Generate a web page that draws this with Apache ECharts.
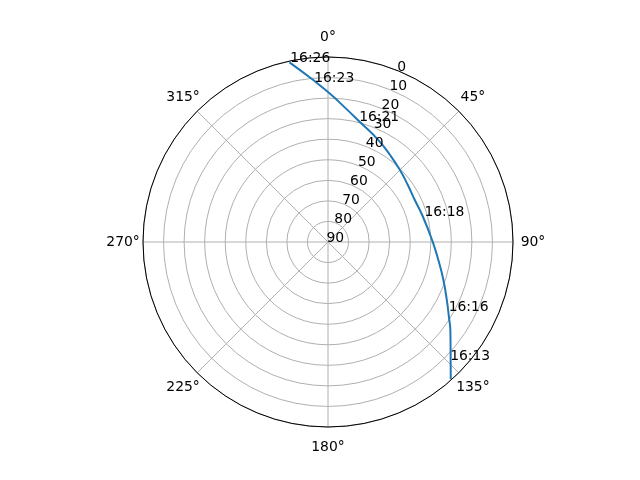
<!DOCTYPE html>
<html>
<head>
<meta charset="utf-8">
<script src="https://cdn.jsdelivr.net/npm/echarts@6/dist/echarts.min.js"></script>
<style>html,body{margin:0;padding:0;background:#fff;}#c{width:640px;height:480px;}</style>
</head>
<body>
<div id="c"></div>
<script>
// Satellite pass: azimuth (deg, clockwise from N) and elevation (deg)
const azimuth   = [138.2,131.4,125.7,122.2,116.0,108.2,99.3,89.8,75.1,64.2,54.5,45.0,35.5,26.3,14.9,7.2,0.8,354.8,347.9];
const elevation = [0.4,10.5,16.7,20.4,25.7,30.9,35.6,39.1,42.2,43.1,42.3,40.5,38.0,34.7,29.6,24.1,17.9,10.9,0.6];

// Time annotations
const timeLabels = ['16:13','16:16','16:18','16:21','16:23','16:26'];
const timeAz     = [133.7,119.7,75.1,15.1,355.6,348.6];
const timeEl     = [6.8,21.6,40.7,29.0,11.9,0.8];

// Tick labels
const angleValues = [0,45,90,135,180,225,270,315];
const angleTicks  = ['0°','45°','90°','135°','180°','225°','270°','315°'];
const radialTicks = [0,10,20,30,40,50,60,70,80,90];
const radialLabelAngle = 22.5;
const angleLabelRadius = -9.7; // just outside the outer ring (elevation < 0)

const font = 'DejaVu Sans';
const fs = 13.9;
const txt = { color: '#000', fontFamily: font, fontSize: fs };

const chart = echarts.init(document.getElementById('c'));
chart.setOption({
  animation: false,
  backgroundColor: '#ffffff',
  polar: { center: [328, 242], radius: 185 },
  angleAxis: {
    type: 'value', min: 0, max: 360, interval: 45,
    startAngle: 90, clockwise: true,
    axisLine: { show: true, lineStyle: { color: '#000', width: 1 } },
    axisTick: { show: false },
    axisLabel: { show: false },
    splitLine: { show: true, lineStyle: { color: '#b0b0b0', width: 1 } }
  },
  radiusAxis: {
    type: 'value', min: 0, max: 90, interval: 10, inverse: true,
    axisLine: { show: false }, axisTick: { show: false }, axisLabel: { show: false },
    splitLine: { show: true, lineStyle: { color: '#b0b0b0', width: 1 } }
  },
  series: [
    {
      type: 'line', coordinateSystem: 'polar', showSymbol: false, smooth: 0.5,
      lineStyle: { color: '#1f77b4', width: 2 },
      data: elevation.map((e, i) => [e, azimuth[i]]),
      z: 3
    },
    {
      type: 'scatter', coordinateSystem: 'polar', symbolSize: 0, clip: false,
      itemStyle: { opacity: 1 },
      data: angleValues.map((a, i) => ({ value: [angleLabelRadius, a], name: angleTicks[i] })),
      label: Object.assign({ show: true, position: [0, 0], align: 'center', verticalAlign: 'middle',
        formatter: p => p.name }, txt),
      z: 4
    },
    {
      type: 'scatter', coordinateSystem: 'polar', symbolSize: 0,
      itemStyle: { opacity: 1 },
      data: radialTicks.map(v => ({ value: [v, radialLabelAngle], name: String(v) })),
      label: Object.assign({ show: true, position: [0, 0], align: 'left', verticalAlign: 'bottom', offset: [-1.5, 3],
        formatter: p => p.name }, txt),
      z: 4
    },
    {
      type: 'scatter', coordinateSystem: 'polar', symbolSize: 0,
      itemStyle: { opacity: 1 },
      data: timeLabels.map((t, i) => ({ value: [timeEl[i], timeAz[i]], name: t })),
      label: Object.assign({ show: true, position: [0, 0], align: 'left', verticalAlign: 'bottom', offset: [-1.5, 3],
        formatter: p => p.name }, txt),
      z: 5
    }
  ]
});
</script>
</body>
</html>
